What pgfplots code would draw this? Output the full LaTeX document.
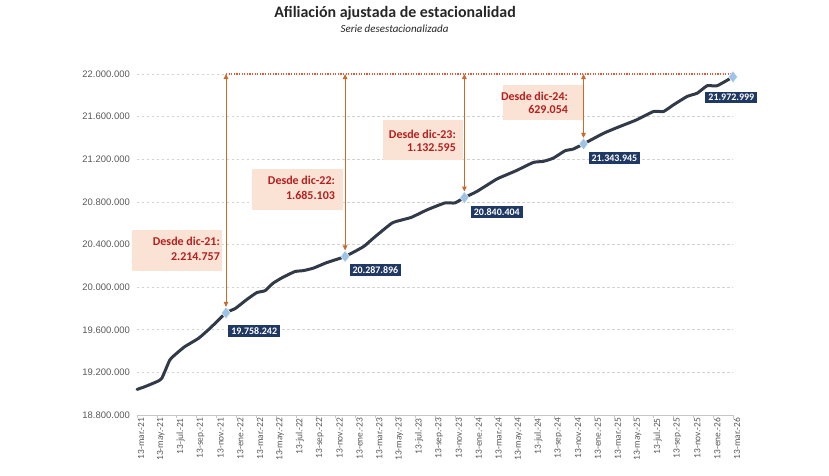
\documentclass[border=0pt]{standalone}
\usepackage{pgfplots}
\pgfplotsset{compat=1.18}
\usepackage{fontspec}
\setmainfont{Carlito}
\newfontfamily\lib{Liberation Sans}
\usetikzlibrary{arrows.meta}
\definecolor{serie}{RGB}{50,58,72}
\definecolor{diam}{RGB}{157,195,230}
\definecolor{navy}{RGB}{31,56,100}
\definecolor{peach}{RGB}{250,226,212}
\definecolor{dred}{RGB}{180,32,32}
\definecolor{arr}{RGB}{200,105,45}
\definecolor{dotl}{RGB}{225,90,60}
\definecolor{tickc}{RGB}{89,89,89}
\begin{document}
\begin{tikzpicture}
\path[use as bounding box] (-137bp,-61bp) rectangle (692bp,415bp);
\node[font=\bfseries\fontsize{16}{19}\selectfont, text=black!85] at (258bp,402bp) {Afiliación ajustada de estacionalidad};
\node[font=\itshape\fontsize{11}{13}\selectfont, text=black!85] at (257.5bp,386bp) {Serie desestacionalizada};
\begin{axis}[
  scale only axis, width=596bp, height=341bp,
  xmin=0, xmax=60, ymin=18800000, ymax=22000000,
  scaled y ticks=false,
  clip=false,
  separate axis lines,
  axis x line*=bottom, axis y line*=left,
  y axis line style={draw=none},
  x axis line style={draw=gray!45, line width=0.8bp},
  ytick={18800000,19200000,19600000,20000000,20400000,20800000,21200000,21600000,22000000},
  yticklabels={18.800.000,19.200.000,19.600.000,20.000.000,20.400.000,20.800.000,21.200.000,21.600.000,22.000.000},
  xtick={0,2,...,60},
  xticklabels={13-mar.-21,13-may.-21,13-jul.-21,13-sep.-21,13-nov.-21,13-ene.-22,13-mar.-22,13-may.-22,13-jul.-22,13-sep.-22,13-nov.-22,13-ene.-23,13-mar.-23,13-may.-23,13-jul.-23,13-sep.-23,13-nov.-23,13-ene.-24,13-mar.-24,13-may.-24,13-jul.-24,13-sep.-24,13-nov.-24,13-ene.-25,13-mar.-25,13-may.-25,13-jul.-25,13-sep.-25,13-nov.-25,13-ene.-26,13-mar.-26},
  ytick style={draw=none},
  xtick style={draw=gray!45, line width=0.6bp},
  xtick align=outside, major tick length=3bp,
  ymajorgrids,
  grid style={dash pattern=on 2.5bp off 2.5bp, draw=gray!35, line width=0.7bp},
  yticklabel style={font=\lib\fontsize{9.5}{11}\selectfont, text=tickc, anchor=east, inner sep=0pt, xshift=-7bp},
  xticklabel style={font=\fontsize{9.5}{10}\selectfont, text=tickc, rotate=90, anchor=east, inner sep=0pt, yshift=-4bp},
]
% annotation boxes
\fill[peach] (axis cs:-0.53,20154000) rectangle (axis cs:8.53,20536000);
\fill[peach] (axis cs:11.55,20724000) rectangle (axis cs:20.77,21106000);
\fill[peach] (axis cs:24.77,21193000) rectangle (axis cs:32.82,21568000);
\fill[peach] (axis cs:36.88,21568000) rectangle (axis cs:44.93,21897000);
\node[anchor=east, align=right, font=\bfseries\fontsize{12}{15}\selectfont, text=dred, inner sep=0pt] at (axis cs:8.36,20357000) {Desde dic-21:\\2.214.757};
\node[anchor=east, align=right, font=\bfseries\fontsize{12}{15}\selectfont, text=dred, inner sep=0pt] at (axis cs:19.94,20936000) {Desde dic-22:\\1.685.103};
\node[anchor=east, align=right, font=\bfseries\fontsize{12}{13}\selectfont, text=dred, inner sep=0pt] at (axis cs:32.12,21371000) {Desde dic-23:\\1.132.595};
\node[anchor=east, align=right, font=\bfseries\fontsize{12}{13}\selectfont, text=dred, inner sep=0pt] at (axis cs:43.4,21727000) {Desde dic-24:\\629.054};
% dotted reference line at 22M
\addplot[draw=white, line width=2bp] coordinates {(8.96,22000000) (60,22000000)};
\addplot[dotl, line width=1.2bp, dash pattern=on 1.2bp off 1.4bp] coordinates {(8.96,22000000) (60,22000000)};
% arrows
\addplot[arr, line width=1bp, {Triangle[length=5bp,width=4.5bp]}-{Triangle[length=5bp,width=4.5bp]}, shorten <=6bp] coordinates {(8.96,19758242) (8.96,22000000)};
\addplot[arr, line width=1bp, {Triangle[length=5bp,width=4.5bp]}-{Triangle[length=5bp,width=4.5bp]}, shorten <=6bp] coordinates {(20.95,20287896) (20.95,22000000)};
\addplot[arr, line width=1bp, {Triangle[length=5bp,width=4.5bp]}-{Triangle[length=5bp,width=4.5bp]}, shorten <=6bp] coordinates {(32.96,20840404) (32.96,22000000)};
\addplot[arr, line width=1bp, {Triangle[length=5bp,width=4.5bp]}-{Triangle[length=5bp,width=4.5bp]}, shorten <=6bp] coordinates {(44.95,21343945) (44.95,22000000)};
% series
\addplot[serie, line width=3bp, line join=round, line cap=round, smooth, tension=0.3] coordinates {
(0,19040000) (0.8,19066000) (2.0,19113000) (2.5,19145000) (3.3,19316000) (3.8,19363000)
(4.8,19441000) (6.2,19520000) (7.35,19614000) (8.96,19758242) (9.9,19800000) (11.0,19880000)
(12.05,19948000) (12.9,19967000) (13.7,20037000) (14.7,20093000) (15.9,20146000) (16.75,20155000)
(17.75,20178000) (19.1,20230000) (20.95,20287896) (22.8,20380000) (23.8,20460000) (25.65,20600000)
(26.65,20630000) (27.65,20656000) (29.2,20725000) (31.0,20790000) (32.0,20790000) (32.96,20840404)
(34.2,20897000) (36.2,21013000) (37.2,21054000) (38.2,21094000) (39.9,21170000) (40.9,21180000)
(41.9,21210000) (43.1,21280000) (43.9,21295000) (44.95,21343945) (47.0,21445000) (48.6,21507000)
(50.3,21570000) (52.0,21648000) (53.0,21648000) (54.0,21710000) (55.4,21790000) (56.4,21820000)
(57.4,21890000) (58.4,21890000) (60,21972999)};
% markers
\addplot[only marks, mark=diamond*, mark size=6bp, mark options={fill=diam, draw=white, line width=0.4bp}] coordinates {
(8.96,19758242) (20.95,20287896) (32.96,20840404) (44.95,21343945) (60,21972999)};
% value labels
\node[fill=navy, text=white, font=\bfseries\fontsize{10}{12}\selectfont, inner xsep=3bp, inner ysep=2.5bp] at (axis cs:11.8,19590000) {19.758.242};
\node[fill=navy, text=white, font=\bfseries\fontsize{10}{12}\selectfont, inner xsep=3bp, inner ysep=2.5bp] at (axis cs:24.0,20161000) {20.287.896};
\node[fill=navy, text=white, font=\bfseries\fontsize{10}{12}\selectfont, inner xsep=3bp, inner ysep=2.5bp] at (axis cs:36.22,20708000) {20.840.404};
\node[fill=navy, text=white, font=\bfseries\fontsize{10}{12}\selectfont, inner xsep=3bp, inner ysep=2.5bp] at (axis cs:48.06,21209000) {21.343.945};
\node[fill=navy, text=white, font=\bfseries\fontsize{10}{12}\selectfont, inner xsep=3bp, inner ysep=2.5bp] at (axis cs:59.83,21779000) {21.972.999};
\end{axis}
\end{tikzpicture}
\end{document}
